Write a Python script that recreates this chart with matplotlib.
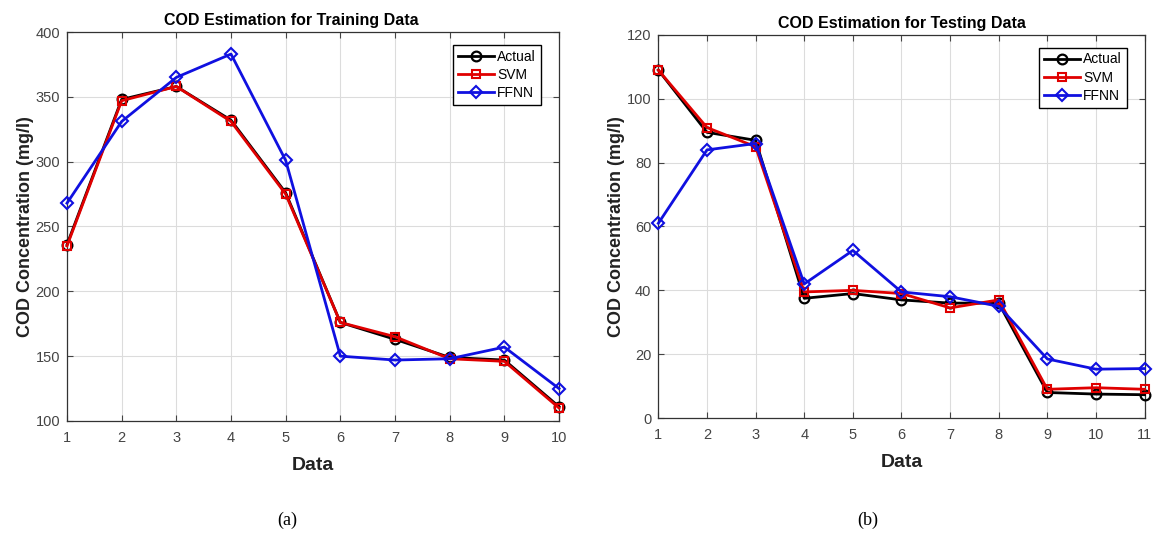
import matplotlib
matplotlib.use("Agg")
import matplotlib.pyplot as plt

# Training set (10 samples)
train_x = list(range(1, 11))
train_actual = [236, 348, 358, 332, 276, 176, 163, 149, 147, 111]
train_svm = [235, 347, 358, 331, 275, 176, 165, 148, 146, 110]
train_ffnn = [268, 331, 365, 383, 301, 150, 147, 148, 157, 125]

# Testing set (11 samples)
test_x = list(range(1, 12))
test_actual = [109, 89.5, 87, 37.5, 39, 37, 36, 36, 8, 7.5, 7.3]
test_svm = [109, 91, 85, 39.5, 40, 39, 34.5, 37, 9, 9.5, 9]
test_ffnn = [61, 84, 86, 42, 52.5, 39.5, 38, 35, 18.5, 15.3, 15.5]

plt.rcParams["font.family"] = ["Liberation Sans", "DejaVu Sans"]


def draw_panel(ax, x, actual, svm, ffnn, title, ylim, yticks, title_x=0.5):
    ax.plot(x, actual, color="black", lw=2, marker="o", ms=7,
            mfc="none", mew=1.6, label="Actual", clip_on=False, zorder=3)
    ax.plot(x, svm, color="#e00000", lw=2, marker="s", ms=6,
            mfc="none", mew=1.5, label="SVM", clip_on=False, zorder=4)
    ax.plot(x, ffnn, color="#1010e0", lw=2, marker="D", ms=6,
            mfc="none", mew=1.5, label="FFNN", clip_on=False, zorder=5)
    ax.set_xlim(x[0], x[-1])
    ax.set_ylim(*ylim)
    ax.set_xticks(x)
    ax.set_yticks(yticks)
    ax.grid(True, color="#dcdcdc", lw=0.8)
    ax.set_axisbelow(True)
    ax.tick_params(direction="in", top=True, right=True, labelsize=10.5,
                   labelcolor="#444444", color="#444444", length=4)
    ax.tick_params(axis="x", pad=7)
    ax.tick_params(axis="y", pad=5)
    for s in ax.spines.values():
        s.set_color("#333333")
        s.set_linewidth(0.9)
    ax.set_title(title, fontsize=11.5, fontweight="bold", pad=5, x=title_x)
    ax.set_xlabel("Data", fontsize=14, fontweight="bold", color="#222222",
                  labelpad=9)
    ax.set_ylabel("COD Concentration (mg/l)", fontsize=13, fontweight="bold",
                  color="#222222", labelpad=1)
    leg = ax.legend(loc="upper right", bbox_to_anchor=(0.963, 0.967),
                    fontsize=10, fancybox=False, edgecolor="black",
                    framealpha=1, handlelength=2.6, borderpad=0.35,
                    labelspacing=0.3, handletextpad=0.2, borderaxespad=0)
    leg.get_frame().set_linewidth(1.0)


fig = plt.figure(figsize=(11.55, 5.38), dpi=100)
ax1 = fig.add_axes([0.058, 0.2175, 0.426, 0.723])
ax2 = fig.add_axes([0.570, 0.223, 0.421, 0.712])

draw_panel(ax1, train_x, train_actual, train_svm, train_ffnn,
           "COD Estimation for Training Data", (100, 400),
           range(100, 401, 50), title_x=0.455)
draw_panel(ax2, test_x, test_actual, test_svm, test_ffnn,
           "COD Estimation for Testing Data", (0, 120),
           range(0, 121, 20))

fig.text(0.249, 0.033, "(a)", fontsize=13, family="Liberation Serif",
         ha="center", va="center")
fig.text(0.751, 0.033, "(b)", fontsize=13, family="Liberation Serif",
         ha="center", va="center")

fig.savefig("out.png", dpi=100)
plt.close(fig)
